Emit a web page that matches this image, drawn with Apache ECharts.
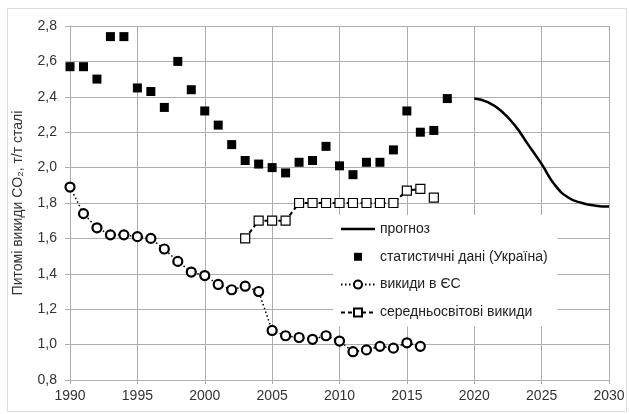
<!DOCTYPE html>
<html>
<head>
<meta charset="utf-8">
<script src="https://cdn.jsdelivr.net/npm/echarts@6/dist/echarts.min.js"></script>
<style>
  html, body { margin: 0; padding: 0; background: #fff; }
  #chart { width: 629px; height: 414px; }
</style>
</head>
<body>
<div id="chart"></div>
<script>
// Specific CO2 emissions in steelmaking, t CO2 per t of steel
const ukraineYears = [1990,1991,1992,1993,1994,1995,1996,1997,1998,1999,2000,2001,2002,2003,2004,2005,2006,2007,2008,2009,2010,2011,2012,2013,2014,2015,2016,2017,2018];
const ukraineValues = [2.57,2.57,2.50,2.74,2.74,2.45,2.43,2.34,2.60,2.44,2.32,2.24,2.13,2.04,2.02,2.00,1.97,2.03,2.04,2.12,2.01,1.96,2.03,2.03,2.10,2.32,2.20,2.21,2.39];

const euYears = [1990,1991,1992,1993,1994,1995,1996,1997,1998,1999,2000,2001,2002,2003,2004,2005,2006,2007,2008,2009,2010,2011,2012,2013,2014,2015,2016];
const euValues = [1.89,1.74,1.66,1.62,1.62,1.61,1.60,1.54,1.47,1.41,1.39,1.34,1.31,1.33,1.30,1.08,1.05,1.04,1.03,1.05,1.02,0.96,0.97,0.99,0.98,1.01,0.99];

const worldYears = [2003,2004,2005,2006,2007,2008,2009,2010,2011,2012,2013,2014,2015,2016];
const worldValues = [1.60,1.70,1.70,1.70,1.80,1.80,1.80,1.80,1.80,1.80,1.80,1.80,1.87,1.88];
const worldLatestYears = [2017];
const worldLatestValues = [1.83];

const forecastYears = [2020,2021,2022,2023,2024,2025,2026,2027,2028,2029,2030];
const forecastValues = [2.39,2.37,2.32,2.24,2.13,2.02,1.90,1.83,1.80,1.785,1.78];

const xTicks = { min: 1990, max: 2030, step: 5 };
const yTicks = { min: 0.8, max: 2.8, step: 0.2 };

const names = {
  forecast: 'прогноз',
  ukraine: 'статистичні дані (Україна)',
  eu: 'викиди в ЄС',
  world: 'середньосвітові викиди',
  worldLatest: 'середньосвітові викиди 2017'
};

const zip = (xs, ys) => xs.map((x, i) => [x, ys[i]]);
const FONT = 'Liberation Sans';
const GRID = '#adadad';

// Legend glyphs: the leading moveTo points pin the icon box to 34x10
const lineIcon = 'path://M0,0M34,10M0,3.7h34v2.6h-34z';
const squareIcon = 'path://M0,0M34,10M13,1h8v8h-8z';

const chart = echarts.init(document.getElementById('chart'), null, { renderer: 'canvas' });
chart.setOption({
  backgroundColor: '#fff',
  animation: false,
  textStyle: { fontFamily: FONT },
  graphic: [{
    type: 'rect',
    shape: { x: 7.5, y: 8.5, width: 619, height: 403 },
    style: { fill: null, stroke: '#dcdcdc', lineWidth: 1 },
    silent: true, z: -10
  }],
  grid: { left: 70, right: 20, top: 26, bottom: 34, containLabel: false },
  xAxis: {
    type: 'value',
    min: xTicks.min, max: xTicks.max, interval: xTicks.step,
    axisLine: { show: true, lineStyle: { color: GRID, width: 1 } },
    axisTick: { show: true, length: 4, lineStyle: { color: GRID } },
    axisLabel: { color: '#333', fontSize: 14, margin: 9, formatter: v => String(v) },
    splitLine: { show: true, lineStyle: { color: GRID, width: 1 } }
  },
  yAxis: {
    type: 'value',
    min: yTicks.min, max: yTicks.max, interval: yTicks.step,
    name: 'Питомі викиди CO₂, т/т сталі',
    nameLocation: 'middle',
    nameGap: 45,
    nameTextStyle: { color: '#333', fontSize: 14, fontFamily: FONT },
    axisLine: { show: true, lineStyle: { color: GRID, width: 1 } },
    axisTick: { show: true, length: 5, lineStyle: { color: GRID } },
    axisLabel: { color: '#333', fontSize: 14, margin: 13, formatter: v => v.toFixed(1).replace('.', ',') },
    splitLine: { show: true, lineStyle: { color: GRID, width: 1 } }
  },
  legend: {
    data: [
      { name: names.forecast, icon: lineIcon },
      { name: names.ukraine, icon: squareIcon },
      { name: names.eu },
      { name: names.world }
    ],
    orient: 'vertical',
    left: 333, top: 215,
    backgroundColor: '#fff',
    padding: [7, 10, 7, 7],
    itemGap: 13.8,
    itemWidth: 34,
    itemHeight: 10,
    textStyle: { color: '#222', fontSize: 14, fontFamily: FONT }
  },
  series: [
    {
      name: names.forecast,
      type: 'line',
      data: zip(forecastYears, forecastValues),
      smooth: 0.5,
      symbol: 'none',
      lineStyle: { color: '#000', width: 2.5 },
      itemStyle: { color: '#000' },
      z: 3
    },
    {
      name: names.ukraine,
      type: 'scatter',
      data: zip(ukraineYears, ukraineValues),
      symbol: 'rect',
      symbolSize: 9,
      itemStyle: { color: '#000', opacity: 1 },
      z: 3
    },
    {
      name: names.eu,
      type: 'line',
      data: zip(euYears, euValues),
      symbol: 'circle',
      symbolSize: 9,
      showAllSymbol: true,
      lineStyle: { color: '#000', width: 1.5, type: [1.5, 2.5] },
      itemStyle: { color: '#fff', borderColor: '#000', borderWidth: 2.2 },
      z: 3
    },
    {
      name: names.world,
      type: 'line',
      data: zip(worldYears, worldValues),
      symbol: 'rect',
      symbolSize: 9,
      showAllSymbol: true,
      lineStyle: { color: '#000', width: 2, type: [4, 3] },
      itemStyle: { color: '#fff', borderColor: '#000', borderWidth: 1.2 },
      z: 3
    },
    {
      name: names.worldLatest,
      type: 'scatter',
      data: zip(worldLatestYears, worldLatestValues),
      symbol: 'rect',
      symbolSize: 9,
      itemStyle: { color: '#fff', borderColor: '#000', borderWidth: 1.2, opacity: 1 },
      z: 3
    }
  ]
});
</script>
</body>
</html>
